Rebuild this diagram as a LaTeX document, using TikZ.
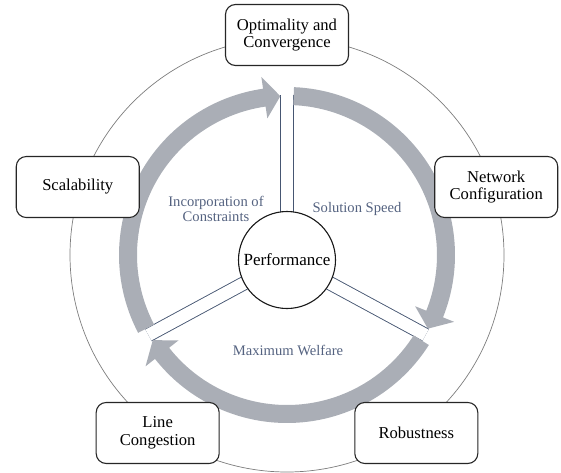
\documentclass[tikz,border=0pt]{standalone}
\usepackage{fontspec}
\setmainfont{Liberation Serif}
\usetikzlibrary{backgrounds}
\definecolor{ringgrey}{RGB}{170,174,182}
\definecolor{slate}{RGB}{70,86,114}
\definecolor{labelc}{RGB}{84,98,128}
\definecolor{thincirc}{RGB}{125,125,125}
\newcommand\ringarrow[2]{%
  \pgfmathsetmacro\aah{#2+5.8}%
  \fill[ringgrey] (#1:168) arc[start angle=#1, end angle=\aah, radius=168]
    -- (\aah:180) -- (#2:159) -- (\aah:138) -- (\aah:150)
    arc[start angle=\aah, end angle=#1, radius=150] -- cycle;}
\tikzset{
  box/.style={draw=black!85, line width=1.1pt, fill=white, rounded corners=10pt,
    minimum width=123pt, minimum height=61pt, align=center, inner sep=2pt,
    font=\fontsize{16.6}{17.8}\selectfont},
  perfnode/.style={draw=black!90, line width=1.1pt, fill=white, circle,
    minimum size=97pt, inner sep=0pt, font=\fontsize{17}{19}\selectfont},
  lbl/.style={text=labelc, align=center, font=\fontsize{14.6}{15.5}\selectfont},
  dbl/.style={draw=slate, line width=0.9pt, double=white, double distance=12.4pt},
}
\begin{document}
\begin{tikzpicture}[x=1pt,y=1pt]
\useasboundingbox (-287,-217) rectangle (274,255);
% outer thin circle
\draw[thincirc, line width=0.7pt] (0,0) circle[radius=217];
% grey ring arrows
\ringarrow{207.6}{92.4}
\ringarrow{87.6}{-27.6}
\ringarrow{-32.4}{-147.6}
% centre
\node[perfnode] (perf) at (0,-5) {Performance};
\coordinate (e1) at (90:160);
\coordinate (e2) at (-30:160);
\coordinate (e3) at (210:160);
\begin{scope}[on background layer]
\draw[dbl] (perf.center) -- (e1);
\draw[dbl] (perf.center) -- (e2);
\draw[dbl] (perf.center) -- (e3);
\end{scope}
% labels
\node[lbl] (l1) at (-71,46) {Incorporation of\\Constraints};
\node[lbl] (l2) at (70,46) {Solution Speed};
\node[lbl] (l3) at (1,-95) {Maximum Welfare};
% boxes
\node[box] (opt) at (90:220) {Optimality and\\Convergence};
\node[box] (net) at (18:220) {Network\\Configuration};
\node[box] (sca) at (162:220) {Scalability};
\node[box] (lin) at (234:220) {Line\\Congestion};
\node[box] (rob) at (-54:220) {Robustness};
\end{tikzpicture}
\end{document}
